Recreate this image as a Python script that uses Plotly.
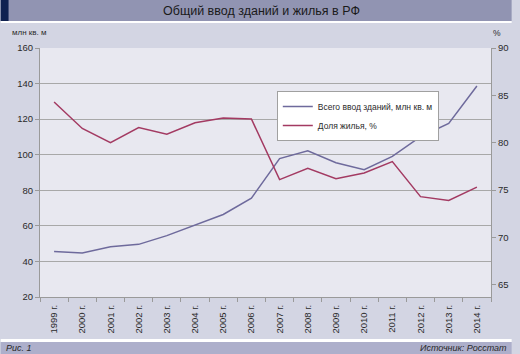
import plotly.graph_objects as go

years = ["1999", "2000", "2001", "2002", "2003", "2004", "2005", "2006",
         "2007", "2008", "2009", "2010", "2011", "2012", "2013", "2014"]
categories = [y + " г." for y in years]
total_buildings = [45.6, 44.8, 48.2, 49.6, 54.5, 60.4, 66.4, 75.6,
                   97.8, 102.2, 95.5, 91.6, 99.1, 110.1, 117.6, 138.6]
housing_share = [84.3, 81.5, 80.0, 81.6, 80.9, 82.1, 82.6, 82.5,
                 76.1, 77.3, 76.2, 76.8, 78.0, 74.3, 73.9, 75.3]
left_ticks = [20, 40, 60, 80, 100, 120, 140, 160]
right_ticks = [65, 70, 75, 80, 85, 90]

W, H = 520, 354
L, R, T, B = 40, 499, 48, 297


def px(x):
    return (x - L) / (R - L)


def py(y):
    return (B - y) / (B - T)


FONT = "Liberation Sans, Arial, sans-serif"
TXT = "#2a2a2a"

fig = go.Figure()
fig.add_trace(go.Scatter(
    x=categories, y=total_buildings, mode="lines",
    name="Всего ввод зданий, млн кв. м",
    line=dict(color="#6E6A9C", width=1.5), yaxis="y"))
fig.add_trace(go.Scatter(
    x=categories, y=housing_share, mode="lines",
    name="Доля жилья, %",
    line=dict(color="#A33A62", width=1.5), yaxis="y2"))

shapes = [
    dict(type="rect", xref="paper", yref="paper", x0=px(0), x1=px(W), y0=py(0), y1=py(21),
         fillcolor="#9194B2", line_width=0, layer="above"),
    dict(type="rect", xref="paper", yref="paper", x0=px(0), x1=px(8), y0=py(0), y1=py(21),
         fillcolor="#0F2150", line_width=0, layer="above"),
    dict(type="rect", xref="paper", yref="paper", x0=px(0), x1=px(W), y0=py(21), y1=py(23),
         fillcolor="#FFFFFF", line_width=0, layer="above"),
    dict(type="rect", xref="paper", yref="paper", x0=px(0), x1=px(W), y0=py(339), y1=py(342),
         fillcolor="#FFFFFF", line_width=0, layer="above"),
    dict(type="rect", xref="paper", yref="paper", x0=px(0), x1=px(W), y0=py(342), y1=py(H),
         fillcolor="#ADAFCB", line_width=0, layer="above"),
]

annotations = [
    dict(text="Общий ввод зданий и жилья в РФ", xref="paper", yref="paper",
         x=px(265), y=py(11), xanchor="center", yanchor="middle", showarrow=False,
         font=dict(family=FONT, size=12.5, color="#1a1a1a")),
    dict(text="млн кв. м", xref="paper", yref="paper",
         x=px(9), y=py(33), xanchor="left", yanchor="middle", showarrow=False,
         font=dict(family=FONT, size=8, color=TXT)),
    dict(text="%", xref="paper", yref="paper",
         x=px(511), y=py(33), xanchor="right", yanchor="middle", showarrow=False,
         font=dict(family=FONT, size=8.5, color=TXT)),
    dict(text="<i>Рис. 1</i>", xref="paper", yref="paper",
         x=px(3), y=py(348), xanchor="left", yanchor="middle", showarrow=False,
         font=dict(family=FONT, size=9, color=TXT)),
    dict(text="<i>Источник: Росстат</i>", xref="paper", yref="paper",
         x=px(517), y=py(348), xanchor="right", yanchor="middle", showarrow=False,
         font=dict(family=FONT, size=9, color=TXT)),
]

axis_col = "#9A9A9A"
fig.update_layout(
    width=W, height=H,
    margin=dict(l=L, r=W - R, t=T, b=H - B, pad=0),
    paper_bgcolor="#D3D5E3", plot_bgcolor="#E8E8F0",
    font=dict(family=FONT, size=9, color=TXT),
    showlegend=True,
    legend=dict(x=px(281), y=py(91), xanchor="left", yanchor="top",
                bgcolor="#FFFFFF", bordercolor="#A0A0A0", borderwidth=1,
                font=dict(family=FONT, size=8.5, color=TXT),
                tracegroupgap=0, itemwidth=30),
    xaxis=dict(type="category", range=[-0.5, len(categories) - 0.5],
               showline=True, linecolor=axis_col, linewidth=1,
               ticks="outside", tickson="boundaries", ticklen=4, tickcolor=axis_col,
               tickangle=-90, showgrid=False, ticklabelstandoff=3,
               tickfont=dict(size=9.5, color=TXT)),
    yaxis=dict(range=[20, 160], tickvals=left_ticks, showline=True, linecolor=axis_col,
               ticks="outside", ticklen=4, tickcolor=axis_col,
               showgrid=True, gridcolor="#A8A8A8", gridwidth=1, zeroline=False,
               tickfont=dict(size=9.5, color=TXT)),
    yaxis2=dict(range=[63.7, 90], tickvals=right_ticks, overlaying="y", side="right",
                showline=True, linecolor=axis_col, ticks="outside", ticklen=4,
                tickcolor=axis_col, showgrid=False, zeroline=False,
                tickfont=dict(size=9.5, color=TXT)),
    shapes=shapes, annotations=annotations,
)

fig.write_html("out.html")
